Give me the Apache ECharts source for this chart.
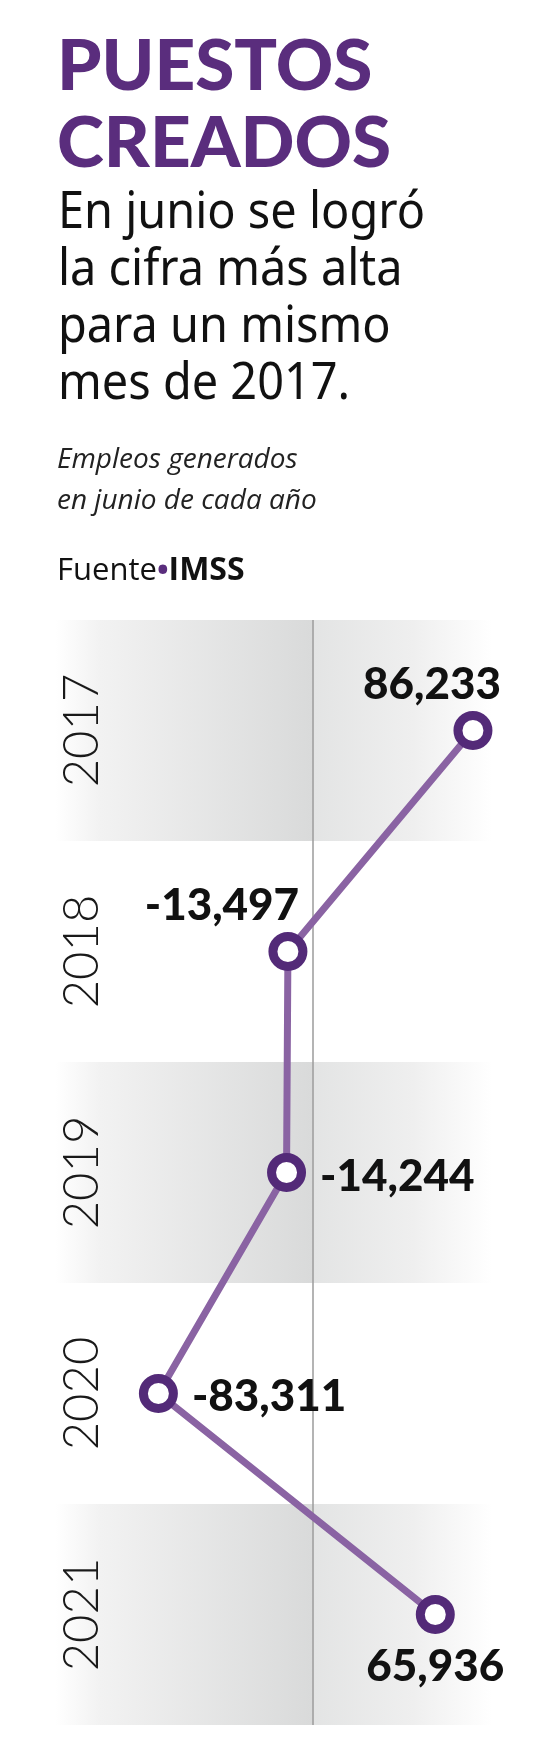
<!DOCTYPE html>
<html>
<head>
<meta charset="utf-8">
<script src="https://cdn.jsdelivr.net/npm/echarts@6/dist/echarts.min.js"></script>
<style>
html,body{margin:0;padding:0;background:#fff;}
#chart{width:560px;height:1754px;}
</style>
</head>
<body>
<div id="chart"></div>
<script>
// ---- data ----
const years = ['2017', '2018', '2019', '2020', '2021'];
const jobs = [86233, -13497, -14244, -83311, 65936];
const titleLines = ['PUESTOS', 'CREADOS'];
const subtitleLines = ['En junio se logró', 'la cifra más alta', 'para un mismo', 'mes de 2017.'];
const noteLines = ['Empleos generados', 'en junio de cada año'];
const sourceLabel = 'Fuente';
const sourceName = 'IMSS';

// ---- style ----
const PURPLE = '#5a2d7d';
const labelPlacement = [
  {position: 'top', offset: [-41, 10]},
  {position: 'top', offset: [-66, 10]},
  {position: 'right', offset: [0, 4]},
  {position: 'right', offset: [0, 3]},
  {position: 'bottom', offset: [0, -3]}
];

// condensed subtitle: measure the natural width, then squeeze to the reference width
const SUB_FONT = 'normal 51px "Noto Sans"';
const measureCtx = document.createElement('canvas').getContext('2d');
measureCtx.font = SUB_FONT;
const subScale = 367 / measureCtx.measureText(subtitleLines[0]).width;

const zeroFrac = (313 - 56) / 436;
const band = new echarts.graphic.LinearGradient(0, 0, 1, 0, [
  {offset: 0, color: 'rgba(255,255,255,1)'},
  {offset: 0.1, color: '#f2f2f2'},
  {offset: zeroFrac - 0.002, color: '#d9dada'},
  {offset: zeroFrac, color: '#e3e4e4'},
  {offset: 0.82, color: '#efefef'},
  {offset: 1, color: 'rgba(255,255,255,1)'}
]);

const chart = echarts.init(document.getElementById('chart'), null, {renderer: 'canvas'});
chart.setOption({
  backgroundColor: '#ffffff',
  animation: false,
  title: [
    {
      text: titleLines.join('\n'), left: 57, top: 29, padding: 0,
      textStyle: {fontFamily: 'Lato', fontWeight: 900, fontSize: 71, lineHeight: 77, color: PURPLE}
    },
    {
      text: noteLines.join('\n'), left: 57, top: 440, padding: 0,
      textStyle: {fontFamily: 'Open Sans', fontStyle: 'italic', fontWeight: 'normal', fontSize: 28, lineHeight: 41, color: '#222'}
    },
    {
      text: '{a|' + sourceLabel + '}{d|•}{b|' + sourceName + '}', left: 57, top: 555, padding: 0,
      textStyle: {
        rich: {
          a: {fontFamily: 'Open Sans', fontSize: 31, color: '#111', fontWeight: 'normal'},
          d: {fontFamily: 'Open Sans', fontSize: 31, color: PURPLE},
          b: {fontFamily: 'Open Sans', fontSize: 32, color: '#111', fontWeight: 'bold'}
        }
      }
    }
  ],
  graphic: [{
    type: 'text', x: 58, y: 185, scaleX: subScale, silent: true,
    style: {text: subtitleLines.join('\n'), font: SUB_FONT, lineHeight: 57, fill: '#111', verticalAlign: 'top', align: 'left'}
  }],
  grid: {left: 56, right: 68, top: 620, bottom: 29, containLabel: false},
  xAxis: {
    type: 'value', min: -138500, max: 96500,
    axisLine: {show: false}, axisTick: {show: false}, axisLabel: {show: false}, splitLine: {show: false}
  },
  yAxis: {
    type: 'category', data: years, inverse: true, boundaryGap: true,
    axisLine: {show: false}, axisTick: {show: false},
    axisLabel: {rotate: 90, margin: -50, fontFamily: 'Lato', fontWeight: 300, fontSize: 49, lineHeight: 48, color: '#1a1a1a'},
    splitLine: {show: false},
    splitArea: {show: true, areaStyle: {color: [band, 'rgba(255,255,255,0)']}}
  },
  series: [{
    type: 'line',
    data: jobs.map((v, i) => ({
      value: v,
      label: {position: labelPlacement[i].position, offset: labelPlacement[i].offset}
    })),
    symbol: 'circle', symbolSize: 30,
    itemStyle: {color: '#ffffff', borderColor: '#532a78', borderWidth: 9},
    lineStyle: {color: '#8a63a3', width: 7},
    label: {
      show: true, distance: 14,
      fontFamily: 'Lato', fontWeight: 900, fontSize: 44, color: '#111',
      formatter: p => p.value.toLocaleString('en-US')
    },
    markLine: {
      silent: true, symbol: 'none', z: 1,
      label: {show: false},
      lineStyle: {color: '#9b9b9b', width: 1.5, type: 'solid'},
      data: [{xAxis: 0}]
    }
  }]
});
</script>
</body>
</html>
